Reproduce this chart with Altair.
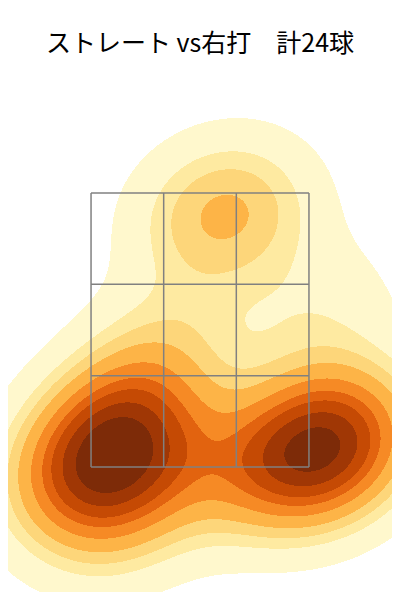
import numpy as np
import pandas as pd
import altair as alt

# pitch locations (ft): horizontal from plate centre, height
pitch_x = [-0.81, -0.68, -0.59, -0.46, -0.42, -0.49, -0.78, -0.62, -0.42,
           0.45, 0.58, 0.68, 0.80, 0.92, 0.74, 0.89, 0.98,
           -0.03, 0.18, 0.33,
           -0.20, 0.08, -0.52, 0.78]
pitch_z = [1.37, 1.52, 1.62, 1.70, 2.06, 1.84, 1.59, 1.41, 1.52,
           1.52, 1.59, 1.66, 1.70, 1.73, 1.55, 1.59, 1.66,
           3.38, 3.41, 3.27,
           2.43, 1.45, 1.04, 2.61]

zone_x = [-0.708, -0.236, 0.236, 0.708]
zone_z = [1.5, 2.1667, 2.8333, 3.5]

band_colors = ["#fff8cd", "#feeaa1", "#fdd67a", "#fdb447", "#f68a25",
               "#e2630f", "#c54a04", "#a03705", "#7d2b08"]
title_text = "ストレート vs右打　計24球"

X_DOMAIN = [-1.2476, 1.2476]
Z_DOMAIN = [0.5876, 4.3832]
W, H = 384, 520

# bivariate gaussian KDE (Scott's rule, full covariance)
pts = np.vstack([pitch_x, pitch_z])
n = pts.shape[1]
factor = n ** (-1.0 / 6.0)
kcov = np.cov(pts) * factor ** 2
kinv = np.linalg.inv(kcov)


def kde(gx, gz):
    dx = gx[..., None] - pts[0]
    dz = gz[..., None] - pts[1]
    q = kinv[0, 0] * dx * dx + 2 * kinv[0, 1] * dx * dz + kinv[1, 1] * dz * dz
    return np.exp(-0.5 * q).sum(-1)


# iso-proportion levels on a support grid
bw = np.sqrt(np.diag(kcov))
sx = np.linspace(pts[0].min() - 3 * bw[0], pts[0].max() + 3 * bw[0], 200)
sz = np.linspace(pts[1].min() - 3 * bw[1], pts[1].max() + 3 * bw[1], 200)
SX, SZ = np.meshgrid(sx, sz)
sd = kde(SX, SZ).ravel()
sv = np.sort(sd)[::-1]
cum = np.cumsum(sv) / sd.sum()
props = np.linspace(0.05, 1, 10)
levels = np.take(sv, np.searchsorted(cum, 1 - props), mode="clip")

# evaluate on pixel grid
xe = np.linspace(X_DOMAIN[0], X_DOMAIN[1], W + 1)
ze = np.linspace(Z_DOMAIN[1], Z_DOMAIN[0], H + 1)
xc = (xe[:-1] + xe[1:]) / 2
zc = (ze[:-1] + ze[1:]) / 2
GX, GZ = np.meshgrid(xc, zc)
dens = kde(GX, GZ)
band = np.clip(np.searchsorted(levels, dens, side="right"), 0, 9)

rows = []
for j in range(H):
    b = band[j]
    change = np.flatnonzero(np.diff(b)) + 1
    starts = np.r_[0, change]
    ends = np.r_[change, W]
    for s, e in zip(starts, ends):
        if b[s] > 0:
            rows.append((xe[s], xe[e], ze[j], ze[j + 1], int(b[s])))
df = pd.DataFrame(rows, columns=["x", "x2", "z", "z2", "band"])

xs = alt.Scale(domain=X_DOMAIN, nice=False, zero=False)
zs = alt.Scale(domain=Z_DOMAIN, nice=False, zero=False)

density = alt.Chart(df).mark_rect(strokeWidth=0).encode(
    x=alt.X("x:Q", scale=xs, axis=None),
    x2="x2:Q",
    y=alt.Y("z:Q", scale=zs, axis=None),
    y2="z2:Q",
    color=alt.Color("band:O", scale=alt.Scale(domain=list(range(1, 10)), range=band_colors), legend=None),
)

vdf = pd.DataFrame({"x": zone_x, "z": zone_z[0], "z2": zone_z[-1]})
hdf = pd.DataFrame({"z": zone_z, "x": zone_x[0], "x2": zone_x[-1]})
vlines = alt.Chart(vdf).mark_rule(color="#808080", strokeWidth=1.5).encode(
    x=alt.X("x:Q", scale=xs), y=alt.Y("z:Q", scale=zs), y2="z2:Q")
hlines = alt.Chart(hdf).mark_rule(color="#808080", strokeWidth=1.5).encode(
    y=alt.Y("z:Q", scale=zs), x=alt.X("x:Q", scale=xs), x2="x2:Q")

chart = alt.layer(density, vlines, hlines).properties(
    width=W, height=H,
    padding={"left": 0, "top": 64, "right": 0, "bottom": 0},
    autosize=alt.AutoSizeParams(type="none"),
    title=alt.TitleParams(text=title_text, fontSize=25, font="Noto Sans CJK JP",
                          fontWeight="normal", color="black", anchor="middle", offset=15),
).configure_view(stroke=None)

chart.save("out.html", embed_options={"renderer": "svg", "actions": False})
